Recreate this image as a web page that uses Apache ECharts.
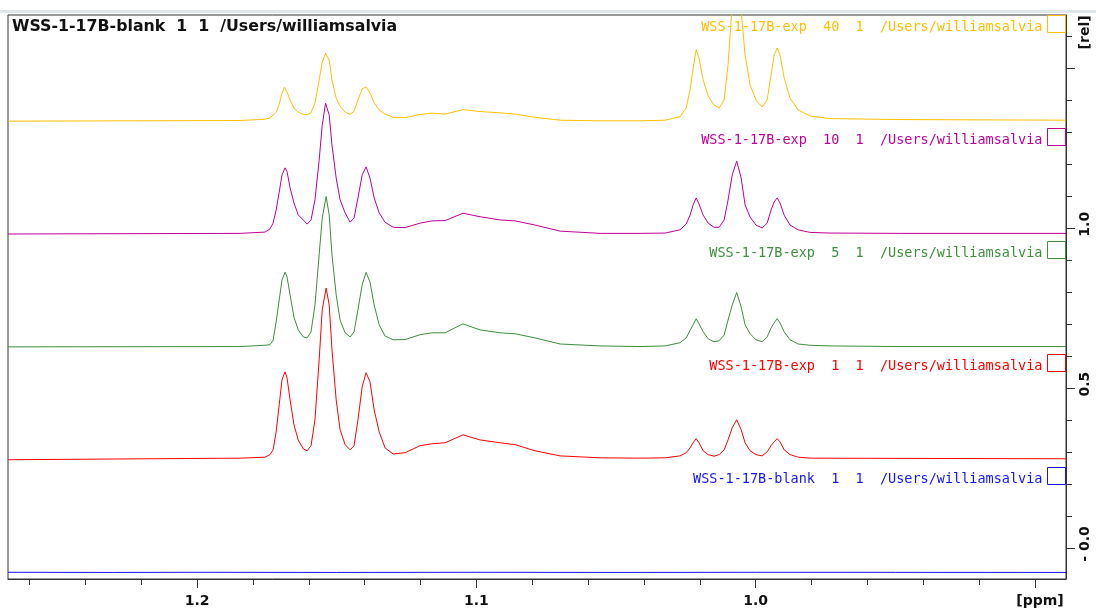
<!DOCTYPE html>
<html>
<head>
<meta charset="utf-8">
<script src="https://cdn.jsdelivr.net/npm/echarts@6/dist/echarts.min.js"></script>
<style>
html,body{margin:0;padding:0;background:#fff}
#container{width:1096px;height:610px}
</style>
</head>
<body>
<div id="container"></div>
<script>
// spectrum names as shown in the legend
var names = [
    'WSS-1-17B-blank  1  1  /Users/williamsalvia',
    'WSS-1-17B-exp  1  1  /Users/williamsalvia',
    'WSS-1-17B-exp  5  1  /Users/williamsalvia',
    'WSS-1-17B-exp  10  1  /Users/williamsalvia',
    'WSS-1-17B-exp  40  1  /Users/williamsalvia'
];
var colors = ['#1414ff', '#ff0000', '#3e8e3e', '#c0009a', '#ffbf00'];

// [ppm, rel]
var blank = [[1.2677,-0.076],[1.2300,-0.0765],[1.2000,-0.076],[1.1500,-0.0765],[1.1000,-0.076],[1.0500,-0.0765],[1.0000,-0.076],[0.9500,-0.0762],[0.8889,-0.0765]];

var exp1 = [[1.2677,0.276],[1.1846,0.281],[1.1757,0.284],[1.1739,0.292],[1.1728,0.307],[1.1717,0.363],[1.1706,0.448],[1.1696,0.526],[1.1685,0.551],[1.1678,0.532],[1.1667,0.463],[1.1653,0.385],[1.1638,0.338],[1.1620,0.310],[1.1606,0.304],[1.1592,0.320],[1.1578,0.401],[1.1563,0.588],[1.1552,0.745],[1.1538,0.813],[1.1527,0.760],[1.1517,0.620],[1.1502,0.463],[1.1488,0.370],[1.1470,0.323],[1.1452,0.307],[1.1438,0.320],[1.1424,0.401],[1.1409,0.504],[1.1395,0.548],[1.1381,0.520],[1.1366,0.432],[1.1348,0.363],[1.1327,0.313],[1.1298,0.294],[1.1255,0.298],[1.1202,0.320],[1.1159,0.326],[1.1112,0.329],[1.1048,0.354],[1.0987,0.338],[1.0915,0.329],[1.0861,0.323],[1.0790,0.304],[1.0700,0.288],[1.0557,0.282],[1.0414,0.281],
    [1.0324,0.282],[1.0271,0.288],[1.0249,0.298],[1.0235,0.313],[1.0224,0.329],[1.0213,0.342],[1.0203,0.329],[1.0188,0.304],[1.0170,0.292],[1.0149,0.287],[1.0131,0.292],[1.0113,0.307],[1.0099,0.338],[1.0084,0.376],[1.0068,0.401],[1.0052,0.370],[1.0038,0.329],[1.0020,0.304],[0.9999,0.292],[0.9977,0.288],[0.9959,0.301],[0.9945,0.320],[0.9934,0.332],[0.9923,0.342],[0.9913,0.332],[0.9898,0.307],[0.9877,0.292],[0.9848,0.284],[0.9805,0.281],[0.8889,0.279]];

var exp5 = [[1.2677,0.629],[1.1846,0.630],[1.1757,0.634],[1.1739,0.636],[1.1728,0.649],[1.1717,0.707],[1.1706,0.776],[1.1696,0.838],[1.1685,0.863],[1.1678,0.848],[1.1667,0.791],[1.1653,0.721],[1.1638,0.683],[1.1620,0.660],[1.1606,0.657],[1.1592,0.676],[1.1578,0.760],[1.1563,0.917],[1.1552,1.032],[1.1538,1.099],[1.1527,1.042],[1.1517,0.917],[1.1502,0.792],[1.1488,0.713],[1.1470,0.673],[1.1452,0.660],[1.1438,0.676],[1.1424,0.745],[1.1409,0.823],[1.1395,0.862],[1.1381,0.832],[1.1366,0.760],[1.1348,0.698],[1.1327,0.663],[1.1298,0.651],[1.1255,0.652],[1.1202,0.667],[1.1159,0.673],[1.1112,0.673],[1.1048,0.701],[1.0987,0.682],[1.0915,0.673],[1.0861,0.670],[1.0790,0.657],[1.0700,0.638],[1.0557,0.632],[1.0414,0.630],
    [1.0324,0.632],[1.0271,0.642],[1.0249,0.657],[1.0235,0.680],[1.0224,0.698],[1.0213,0.717],[1.0203,0.701],[1.0188,0.676],[1.0170,0.654],[1.0149,0.645],[1.0131,0.648],[1.0113,0.666],[1.0099,0.713],[1.0084,0.760],[1.0068,0.799],[1.0052,0.754],[1.0038,0.698],[1.0020,0.670],[0.9999,0.651],[0.9977,0.645],[0.9959,0.660],[0.9945,0.688],[0.9934,0.704],[0.9923,0.717],[0.9913,0.704],[0.9898,0.676],[0.9877,0.651],[0.9848,0.638],[0.9805,0.634],[0.9734,0.632],[0.9483,0.630],[0.8889,0.630]];

var exp10 = [[1.2677,0.982],[1.1846,0.984],[1.1757,0.988],[1.1739,0.998],[1.1728,1.016],[1.1717,1.057],[1.1706,1.113],[1.1696,1.167],[1.1685,1.189],[1.1678,1.177],[1.1667,1.126],[1.1653,1.079],[1.1638,1.042],[1.1620,1.026],[1.1606,1.013],[1.1592,1.026],[1.1578,1.089],[1.1563,1.213],[1.1552,1.322],[1.1540,1.391],[1.1527,1.354],[1.1517,1.260],[1.1502,1.157],[1.1488,1.089],[1.1470,1.048],[1.1452,1.019],[1.1438,1.032],[1.1424,1.095],[1.1409,1.167],[1.1395,1.192],[1.1381,1.157],[1.1366,1.095],[1.1348,1.048],[1.1327,1.019],[1.1298,1.003],[1.1255,1.002],[1.1202,1.016],[1.1159,1.023],[1.1112,1.024],[1.1048,1.047],[1.0987,1.036],[1.0915,1.026],[1.0861,1.023],[1.0790,1.010],[1.0700,0.991],[1.0557,0.984],[1.0414,0.984],
    [1.0324,0.985],[1.0271,0.995],[1.0249,1.013],[1.0235,1.041],[1.0224,1.073],[1.0213,1.095],[1.0203,1.076],[1.0188,1.041],[1.0170,1.016],[1.0149,1.003],[1.0131,1.003],[1.0113,1.026],[1.0099,1.088],[1.0084,1.167],[1.0068,1.210],[1.0052,1.157],[1.0038,1.073],[1.0020,1.035],[0.9999,1.010],[0.9977,1.001],[0.9959,1.016],[0.9945,1.057],[0.9934,1.082],[0.9923,1.095],[0.9913,1.079],[0.9898,1.041],[0.9877,1.010],[0.9848,0.995],[0.9805,0.987],[0.9734,0.985],[0.9483,0.984],[0.8889,0.984]];

var exp40 = [[1.2677,1.335],[1.1846,1.337],[1.1757,1.341],[1.1739,1.345],[1.1717,1.363],[1.1706,1.388],[1.1696,1.422],[1.1687,1.441],[1.1678,1.426],[1.1667,1.401],[1.1653,1.376],[1.1638,1.363],[1.1620,1.356],[1.1606,1.355],[1.1592,1.362],[1.1578,1.392],[1.1563,1.463],[1.1552,1.520],[1.1540,1.547],[1.1527,1.526],[1.1517,1.463],[1.1502,1.407],[1.1488,1.382],[1.1470,1.363],[1.1452,1.356],[1.1438,1.366],[1.1424,1.401],[1.1409,1.436],[1.1395,1.442],[1.1381,1.423],[1.1366,1.392],[1.1348,1.370],[1.1327,1.357],[1.1298,1.347],[1.1255,1.346],[1.1202,1.356],[1.1159,1.360],[1.1112,1.357],[1.1048,1.371],[1.0987,1.365],[1.0915,1.361],[1.0861,1.357],[1.0790,1.347],[1.0700,1.338],[1.0557,1.336],[1.0414,1.336],
    [1.0324,1.338],[1.0271,1.349],[1.0249,1.376],[1.0235,1.432],[1.0224,1.500],[1.0213,1.559],[1.0203,1.532],[1.0188,1.463],[1.0170,1.413],[1.0149,1.385],[1.0131,1.376],[1.0113,1.401],[1.0099,1.510],[1.0088,1.651],[1.0068,1.850],[1.0049,1.651],[1.0038,1.542],[1.0020,1.448],[0.9999,1.401],[0.9977,1.379],[0.9959,1.401],[0.9945,1.479],[0.9934,1.542],[0.9923,1.564],[0.9913,1.542],[0.9898,1.470],[0.9877,1.407],[0.9848,1.370],[0.9805,1.351],[0.9734,1.343],[0.9483,1.340],[0.8889,1.338]];

var spectra = [blank, exp1, exp5, exp10, exp40];

// axis ticks / labels
var xMajorTicks = [0.9, 1.0, 1.1, 1.2];
var xMinorTicks = [0.90,0.92,0.94,0.96,0.98,1.00,1.02,1.04,1.06,1.08,1.10,1.12,1.14,1.16,1.18,1.20,1.22,1.24,1.26];
var yMajorTicks = [0, 0.5, 1.0, 1.5];
var yMinorTicks = [0,0.1,0.2,0.3,0.4,0.5,0.6,0.7,0.8,0.9,1.0,1.1,1.2,1.3,1.4,1.5,1.6];
var yLabelTicks = [0, 0.5, 1.0, 1.6];

var legendTops = [467, 354, 241, 128, 15];

var series = [];
var legends = [];
for (var i = 0; i < spectra.length; i++) {
    series.push({
        name: names[i],
        type: 'line',
        data: spectra[i],
        symbol: 'none',
        silent: true,
        clip: true,
        lineStyle: {color: colors[i], width: 1},
        itemStyle: {color: colors[i]}
    });
    legends.push({
        data: [names[i]],
        right: 30,
        top: legendTops[i],
        padding: 0,
        align: 'right',
        icon: 'rect',
        itemWidth: 18,
        itemHeight: 17,
        itemGap: 0,
        selectedMode: false,
        itemStyle: {color: 'rgba(0,0,0,0)', borderColor: colors[i], borderWidth: 1},
        lineStyle: {width: 0},
        formatter: '{t|{name}}',
        textStyle: {
            color: colors[i],
            rich: {t: {color: colors[i], fontFamily: 'DejaVu Sans Mono', fontSize: 13.5, padding: [7, 0, 0, 0]}}
        }
    });
}

var bold = {fontFamily: 'DejaVu Sans', fontWeight: 'bold', fontSize: 14, color: '#111'};

var option = {
    backgroundColor: '#fff',
    animation: false,
    title: {
        text: 'WSS-1-17B-blank  1  1  /Users/williamsalvia',
        left: 12,
        top: 19,
        padding: 0,
        textStyle: {fontFamily: 'DejaVu Sans', fontWeight: 'bold', fontSize: 15.8, color: '#111'}
    },
    legend: legends,
    graphic: [{
        type: 'rect',
        shape: {x: 0, y: 10, width: 1096, height: 3},
        style: {fill: '#dfe8e8'},
        silent: true
    }],
    grid: {
        left: 8, right: 30, top: 15, bottom: 31,
        show: true, borderColor: '#333', borderWidth: 1, backgroundColor: '#fff'
    },
    xAxis: [{
        type: 'value', min: 0.8889, max: 1.2677, inverse: true, position: 'bottom',
        axisLine: {show: true, onZero: false, lineStyle: {color: '#333'}},
        axisTick: {show: true, length: 9, customValues: xMajorTicks, lineStyle: {color: '#333'}},
        axisLabel: Object.assign({
            customValues: xMajorTicks, margin: 15,
            formatter: function (v) { return v < 0.95 ? '{p|[ppm]}' : v.toFixed(1); },
            rich: {p: {fontFamily: 'DejaVu Sans', fontWeight: 'bold', fontSize: 14, color: '#111', padding: [0, 0, 0, 10]}}
        }, bold),
        splitLine: {show: false}
    }, {
        type: 'value', min: 0.8889, max: 1.2677, inverse: true, position: 'bottom',
        axisLine: {show: false, onZero: false},
        axisTick: {show: true, length: 6, customValues: xMinorTicks, lineStyle: {color: '#333'}},
        axisLabel: {show: false},
        splitLine: {show: false}
    }],
    yAxis: [{
        type: 'value', min: -0.097, max: 1.667, position: 'right',
        axisLine: {show: true, onZero: false, lineStyle: {color: '#333'}},
        axisTick: {show: true, length: 9, customValues: yMajorTicks, lineStyle: {color: '#333'}},
        axisLabel: Object.assign({
            customValues: yLabelTicks, rotate: 90, margin: 12,
            formatter: function (v) {
                var s = v > 1.55 ? '[rel]' : (v === 0 ? '- 0.0' : v.toFixed(1));
                return '{a|' + s + '}';
            },
            rich: {a: {fontFamily: 'DejaVu Sans', fontWeight: 'bold', fontSize: 14, color: '#111', padding: [0, 0, 0, 8]}}
        }, bold),
        splitLine: {show: false}
    }, {
        type: 'value', min: -0.097, max: 1.667, position: 'right',
        axisLine: {show: false, onZero: false},
        axisTick: {show: true, length: 6, customValues: yMinorTicks, lineStyle: {color: '#333'}},
        axisLabel: {show: false},
        splitLine: {show: false}
    }],
    series: series
};

var myChart = echarts.init(document.getElementById('container'));
myChart.setOption(option);
</script>
</body>
</html>
